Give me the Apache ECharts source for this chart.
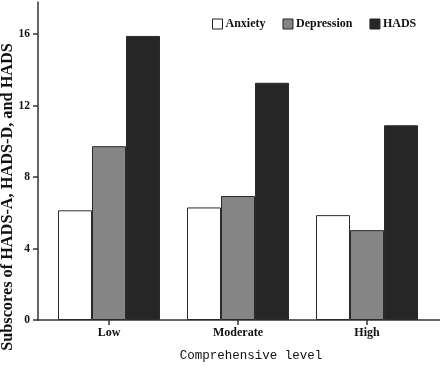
<!DOCTYPE html>
<html><head><meta charset="utf-8">
<script src="https://cdn.jsdelivr.net/npm/echarts@6/dist/echarts.min.js"></script>
<style>html,body{margin:0;padding:0;background:#fff}#c{width:440px;height:368px}</style>
</head><body><div id="c"></div>
<script>
const categories = ['Low', 'Moderate', 'High'];
const anxiety = [6.14, 6.30, 5.87];
const depression = [9.73, 6.94, 5.03];
const hads = [15.9, 13.28, 10.9];
const yTicks = [0, 4, 8, 12, 16];

const serif = 'Liberation Serif';
const chart = echarts.init(document.getElementById('c'));
function ser(name, vals, color) {
  return {
    name: name, type: 'bar', barWidth: 34, barGap: '0%',
    xAxisIndex: 0, yAxisIndex: 0,
    data: vals,
    itemStyle: { color: color, borderColor: '#2a2a2a', borderWidth: 1 },
    emphasis: { disabled: true }
  };
}
chart.setOption({
  animation: false,
  backgroundColor: '#fff',
  legend: {
    left: 207, top: 13, itemWidth: 10, itemHeight: 10, itemGap: 17,
    icon: 'rect',
    textStyle: { fontFamily: serif, fontWeight: 'bold', fontSize: 12, color: '#111', padding: [0, 0, 0, -2] },
    data: [
      { name: 'Anxiety', itemStyle: { color: '#fff', borderColor: '#222', borderWidth: 1 } },
      { name: 'Depression', itemStyle: { color: '#858585', borderColor: '#222', borderWidth: 1 } },
      { name: 'HADS', itemStyle: { color: '#262626', borderColor: '#222', borderWidth: 1 } }
    ]
  },
  grid: [
    { left: 44.5, right: 8.5, top: 2, bottom: 48, outerBoundsMode: 'none', containLabel: false },
    { left: 38, right: 0, top: 2, bottom: 48, outerBoundsMode: 'none', containLabel: false }
  ],
  xAxis: [
    {
      type: 'category', gridIndex: 0, data: categories,
      axisLine: { show: false },
      axisTick: { show: true, alignWithLabel: true, length: 5, lineStyle: { color: '#333', width: 1.5 } },
      axisLabel: { fontFamily: serif, fontWeight: 'bold', fontSize: 12, color: '#111', margin: 7 },
      splitLine: { show: false }
    },
    {
      type: 'value', gridIndex: 1, min: 0, max: 1,
      name: 'Comprehensive level', nameLocation: 'middle', nameGap: 29, nameMoveOverlap: false,
      nameTextStyle: { fontFamily: 'Liberation Mono', fontSize: 12.5, color: '#111', padding: [0, 0, 0, 24] },
      axisLine: { show: true, onZero: false, lineStyle: { color: '#333', width: 1.5 } },
      axisTick: { show: false }, axisLabel: { show: false }, splitLine: { show: false }
    }
  ],
  yAxis: [
    {
      type: 'value', gridIndex: 0, min: 0, max: 17.8, offset: 6.5,
      name: 'Subscores of HADS-A, HADS-D, and HADS', nameLocation: 'middle', nameGap: 22, nameMoveOverlap: false,
      nameTextStyle: { fontFamily: serif, fontWeight: 'bold', fontSize: 16.3, color: '#111', padding: [0, 72, 0, 0] },
      axisLine: { show: true, lineStyle: { color: '#333', width: 1.5 } },
      axisTick: { show: true, length: 5, customValues: yTicks, lineStyle: { color: '#333', width: 1.5 } },
      axisLabel: { customValues: yTicks, fontFamily: serif, fontWeight: 'bold', fontSize: 11.5, color: '#111', margin: 8 },
      splitLine: { show: false }
    },
    {
      type: 'value', gridIndex: 1, min: 0, max: 1, show: false
    }
  ],
  series: [
    ser('Anxiety', anxiety, '#ffffff'),
    ser('Depression', depression, '#858585'),
    ser('HADS', hads, '#262626')
  ]
});
</script></body></html>
